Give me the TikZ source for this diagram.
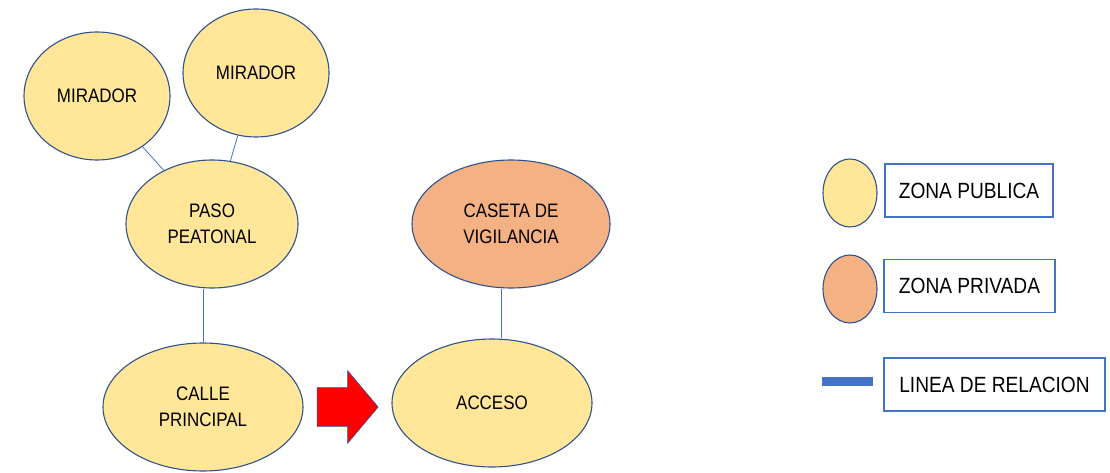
\documentclass[tikz,border=0pt]{standalone}
\usepackage{fontspec}
\setmainfont{Liberation Sans}[FakeStretch=0.87]
\usepackage{xcolor}
\usepackage{tikz}
\usetikzlibrary{shapes.geometric,shapes.arrows}
\definecolor{zonayellow}{RGB}{255,230,153}
\definecolor{zonaorange}{RGB}{244,177,131}
\definecolor{rimblue}{RGB}{47,82,143}
\definecolor{lineblue}{RGB}{68,114,196}
\begin{document}
\begin{tikzpicture}[
    x=1pt, y=-1pt,
    zona/.style={
      ellipse, draw=rimblue, line width=1.1pt, fill=zonayellow,
      inner sep=0pt, minimum height=128pt,
      align=center, font={\fontsize{19.5}{26}\selectfont}
    },
    privada/.style={zona, fill=zonaorange},
    legbox/.style={
      rectangle, draw=lineblue, line width=1.2pt, fill=white,
      minimum height=53pt, inner sep=0pt,
      font={\fontsize{22}{26}\selectfont}
    },
    relacion/.style={draw=lineblue, line width=0.8pt}
  ]
    \useasboundingbox (0,0) rectangle (1110,473);
    \node[zona, minimum width=146pt] (mir1) at (97,96) {MIRADOR};
    \node[zona, minimum width=146pt] (mir2) at (256,73) {MIRADOR};
    \node[zona, minimum width=172pt] (paso) at (212,224) {PASO\\PEATONAL};
    \node[zona, minimum width=200pt] (calle) at (203,407) {CALLE\\PRINCIPAL};
    \node[zona, minimum width=200pt] (acceso) at (492,403) {ACCESO};
    \node[privada, minimum width=198pt] (caseta) at (511,224) {CASETA DE\\VIGILANCIA};
    \node[single arrow, draw=rimblue, line width=0.6pt, fill=red,
      minimum width=72pt, minimum height=61pt, inner xsep=0pt, inner ysep=19pt,
      single arrow head extend=17pt, single arrow tip angle=100] (flecha) at (339.5,407) {};
    \draw[relacion] (mir1) -- (paso);
    \draw[relacion] (mir2) -- (paso);
    \draw[relacion] (calle.north) -- (calle.north |- paso.south);
    \draw[relacion] ([xshift=-10pt]caseta.south) -- ([xshift=-10pt]caseta.south |- acceso.north);
    \node[zona, minimum width=54pt, minimum height=68pt] (legpub) at (850,193) {};
    \node[privada, minimum width=54pt, minimum height=68pt] (legpriv) at (850,289) {};
    \node[rectangle, fill=lineblue, minimum width=51pt, minimum height=9pt, inner sep=0pt] (legrel) at (847.5,381) {};
    \node[legbox, minimum width=168pt] (txtpub) at (969,190.5) {ZONA PUBLICA};
    \node[legbox, minimum width=171pt] (txtpriv) at (969.5,286) {ZONA PRIVADA};
    \node[legbox, minimum width=221pt] (txtrel) at (994.5,384.5) {LINEA DE RELACION};
  \end{tikzpicture}
\end{document}
